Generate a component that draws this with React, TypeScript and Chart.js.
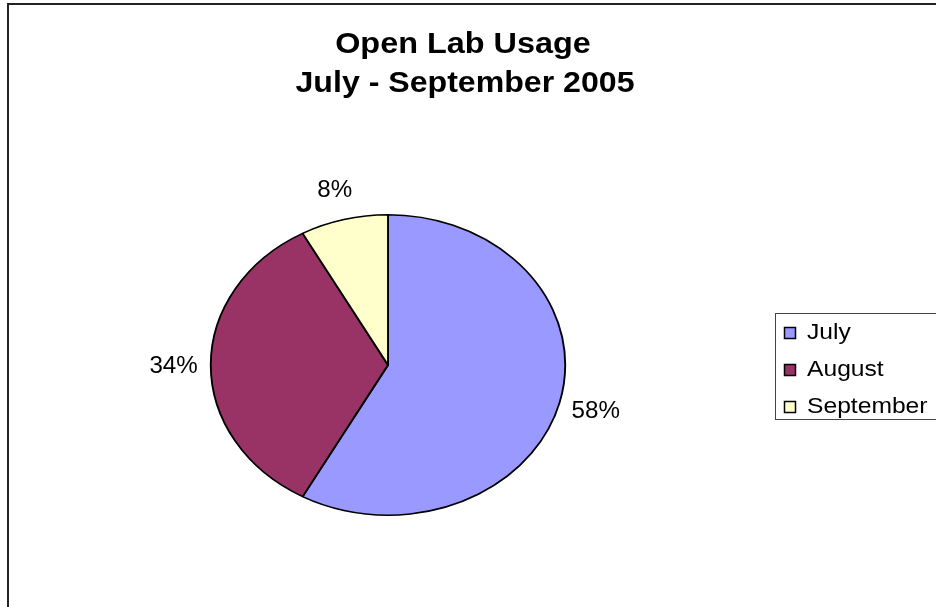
import React, { useEffect, useRef } from 'react';
import { Chart, registerables } from 'chart.js';

Chart.register(...registerables);

const titleLines = ['Open Lab Usage', 'July - September 2005'];
const categories = ['July', 'August', 'September'];
const values = [58, 34, 8];
const colors = ['#9999FF', '#993366', '#FFFFCC'];

const FONT = '"Liberation Sans", Arial, Helvetica, sans-serif';
const X_SCALE = 177 / 150;

function drawScaledText(ctx: CanvasRenderingContext2D, text: string, x: number, y: number, sx: number, align: CanvasTextAlign) {
  ctx.save();
  ctx.translate(x, y);
  ctx.scale(sx, 1);
  ctx.textAlign = align;
  ctx.textBaseline = 'alphabetic';
  ctx.fillText(text, 0, 0);
  ctx.restore();
}

export default function App() {
  const ref = useRef<HTMLCanvasElement>(null);

  useEffect(() => {
    const canvas = ref.current!;
    const total = values.reduce((a, b) => a + b, 0);

    const ellipsePlugin = {
      id: 'ellipse',
      beforeDatasetsDraw(chart: any) {
        const arc = chart.getDatasetMeta(0).data[0];
        const ctx = chart.ctx as CanvasRenderingContext2D;
        ctx.save();
        ctx.translate(arc.x, arc.y);
        ctx.scale(X_SCALE, 1);
        ctx.translate(-arc.x, -arc.y);
      },
      afterDatasetsDraw(chart: any) {
        const ctx = chart.ctx as CanvasRenderingContext2D;
        ctx.restore();
        const meta = chart.getDatasetMeta(0);
        ctx.save();
        ctx.fillStyle = '#000';
        const fs = 23;
        ctx.font = `${fs}px ${FONT}`;
        meta.data.forEach((arc: any, i: number) => {
          const p = arc.getProps(['x', 'y', 'startAngle', 'endAngle', 'outerRadius'], true);
          const mid = (p.startAngle + p.endAngle) / 2;
          const r = p.outerRadius * 1.21;
          const lx = p.x + Math.cos(mid) * r * X_SCALE;
          const ly = p.y + Math.sin(mid) * r;
          const label = Math.round((values[i] / total) * 100) + '%';
          drawScaledText(ctx, label, lx, ly + fs * 0.36, 1.05, 'center');
        });
        ctx.restore();
      },
    };

    const decoPlugin = {
      id: 'deco',
      beforeDraw(chart: any) {
        const ctx = chart.ctx as CanvasRenderingContext2D;
        ctx.save();
        ctx.fillStyle = '#fff';
        ctx.fillRect(0, 0, chart.width, chart.height);
        ctx.strokeStyle = '#222';
        ctx.lineWidth = 2;
        ctx.strokeRect(8, 4, 1000, 1000);
        ctx.restore();
      },
      afterDraw(chart: any) {
        const ctx = chart.ctx as CanvasRenderingContext2D;
        ctx.save();
        ctx.fillStyle = '#000';
        ctx.font = `bold 30px ${FONT}`;
        drawScaledText(ctx, titleLines[0], 463, 53, 1.08, 'center');
        drawScaledText(ctx, titleLines[1], 465, 92, 1.07, 'center');

        // legend box
        ctx.strokeStyle = '#444';
        ctx.lineWidth = 1;
        ctx.strokeRect(775.5, 313.5, 300, 106);
        const baselines = [339, 376, 413];
        ctx.font = `22px ${FONT}`;
        categories.forEach((c, i) => {
          const b = baselines[i];
          ctx.fillStyle = colors[i];
          ctx.fillRect(784, b - 12, 12, 12);
          ctx.strokeStyle = '#000';
          ctx.lineWidth = 1.5;
          ctx.strokeRect(784.5, b - 11.5, 11, 11);
          ctx.fillStyle = '#000';
          drawScaledText(ctx, c, 807, b, 1.12, 'left');
        });
        ctx.restore();
      },
    };

    const chart = new Chart(canvas, {
      type: 'pie',
      data: {
        labels: categories,
        datasets: [
          {
            data: values,
            backgroundColor: colors,
            borderColor: '#000',
            borderWidth: 1.6,
          },
        ],
      },
      options: {
        responsive: false,
        animation: false,
        events: [],
        layout: { padding: { left: 237, right: 397, top: 214, bottom: 91 } },
        plugins: {
          legend: { display: false },
          title: { display: false },
          tooltip: { enabled: false },
        },
      },
      plugins: [ellipsePlugin, decoPlugin],
    });
    return () => chart.destroy();
  }, []);

  return (
    <div style={{ position: 'absolute', left: 0, top: 0, width: 936, height: 607 }}>
      <canvas ref={ref} width={936} height={607} style={{ display: 'block' }} />
    </div>
  );
}
